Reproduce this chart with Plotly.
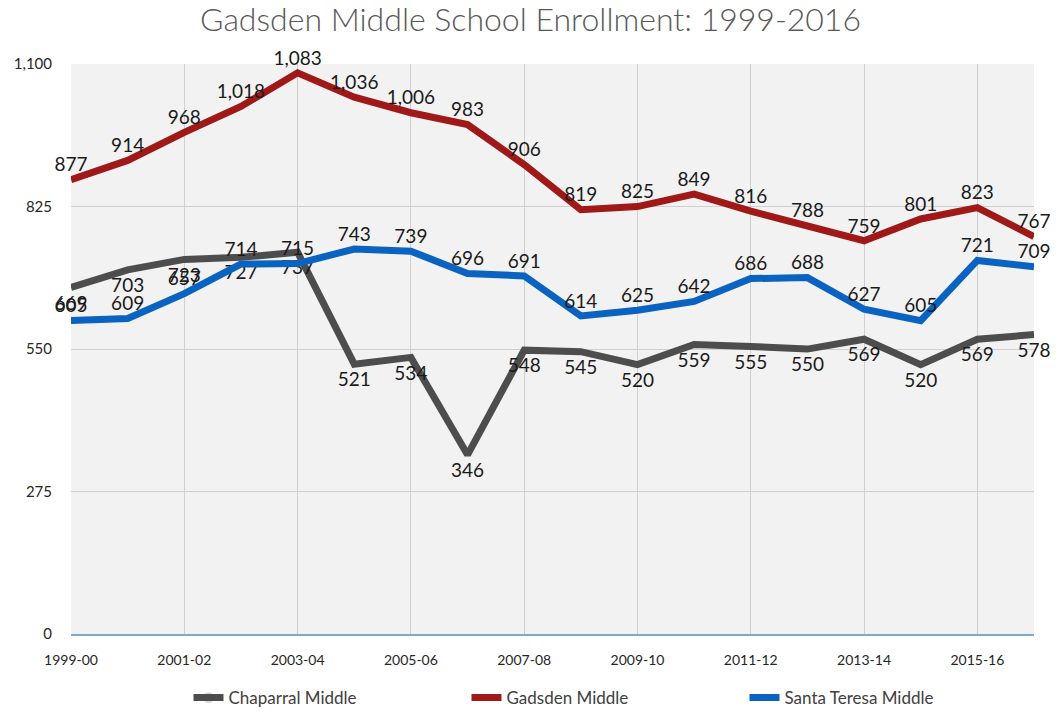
import plotly.graph_objects as go

# school years (x categories)
years = ["1999-00", "2000-01", "2001-02", "2002-03", "2003-04", "2004-05",
         "2005-06", "2006-07", "2007-08", "2008-09", "2009-10", "2010-11",
         "2011-12", "2012-13", "2013-14", "2014-15", "2015-16", "2016-17"]

chaparral = [669, 703, 723, 727, 737, 521, 534, 346, 548, 545, 520, 559,
             555, 550, 569, 520, 569, 578]
gadsden = [877, 914, 968, 1018, 1083, 1036, 1006, 983, 906, 819, 825, 849,
           816, 788, 759, 801, 823, 767]
santa_teresa = [605, 609, 657, 714, 715, 743, 739, 696, 691, 614, 625, 642,
                686, 688, 627, 605, 721, 709]

x_ticks = years[::2]
y_ticks = [0, 275, 550, 825, 1100]

fig = go.Figure()

series = [
    ("Chaparral Middle", chaparral, "#4d4d4d", "bottom center", 11),
    ("Gadsden Middle", gadsden, "#a01919", "top center", 4),
    ("Santa Teresa Middle", santa_teresa, "#0b63c1", "top center", 4),
]
for name, vals, color, pos, gap in series:
    # invisible markers just push the labels a bit away from the line
    fig.add_trace(go.Scatter(
        x=years, y=vals, name=name, mode="lines+markers+text",
        line=dict(color=color, width=7),
        marker=dict(size=gap, opacity=0),
        text=[f"{v:,}" for v in vals], textposition=pos,
        textfont=dict(size=19, color="#1a1a1a"),
        cliponaxis=False,
    ))

fig.update_layout(
    width=1061, height=712,
    title=dict(text="Gadsden Middle School Enrollment: 1999-2016",
               x=0.5, xanchor="center", y=1 - 20 / 712, yanchor="middle",
               font=dict(size=32, color="#595959", weight=300)),
    font=dict(family="Lato, sans-serif", color="#262626"),
    paper_bgcolor="white", plot_bgcolor="#f2f2f2",
    margin=dict(l=71, r=27, t=64, b=76),
    legend=dict(orientation="h", x=0.122, xanchor="left",
                yref="container", y=1 - 698 / 712, yanchor="middle",
                font=dict(size=17, color="#404040"),
                entrywidth=233, entrywidthmode="pixels"),
    showlegend=True,
)
fig.update_xaxes(type="category", tickvals=x_ticks, ticktext=x_ticks,
                 showgrid=True, gridcolor="#d0d0d0", gridwidth=1,
                 range=[0, len(years) - 1],
                 showline=True, linecolor="#7fa8c9", linewidth=2,
                 ticks="", ticklabelstandoff=12,
                 tickfont=dict(size=14, color="#262626"))
fig.update_yaxes(range=[0, 1100], tickvals=y_ticks, tickformat=",",
                 showgrid=True, gridcolor="#d0d0d0", gridwidth=1,
                 zeroline=False, ticks="", ticklabelstandoff=18,
                 tickfont=dict(size=15, color="#262626"))

fig.write_html("out.html", config={"displayModeBar": False},
               post_script="document.body.style.margin='0';")
